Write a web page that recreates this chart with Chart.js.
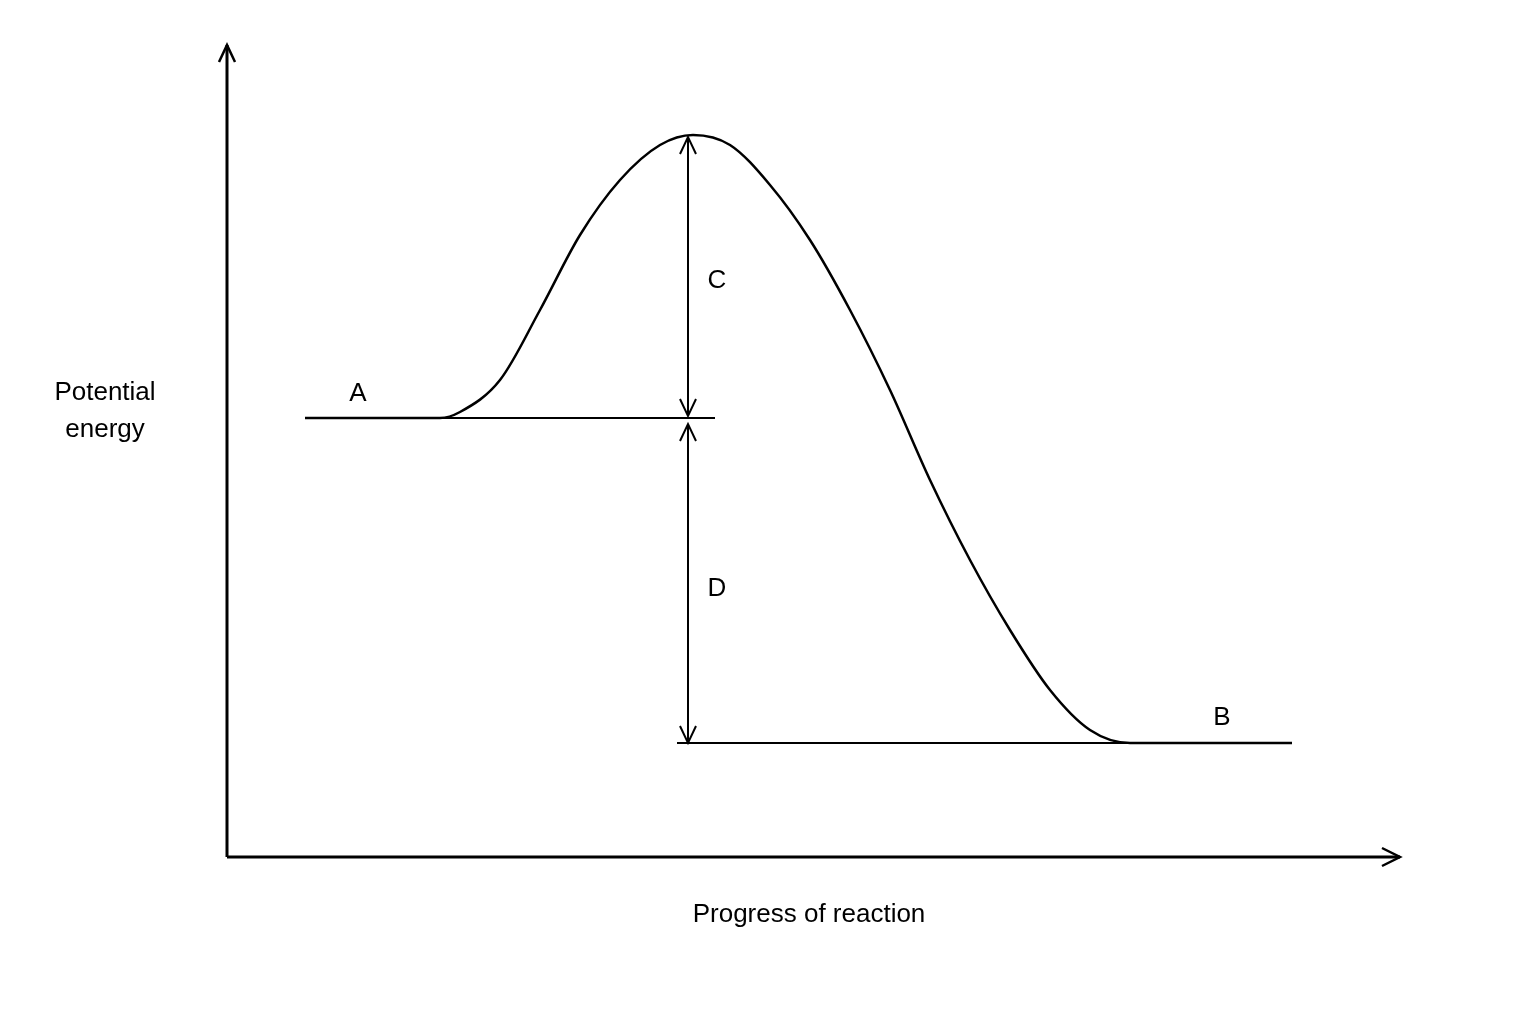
<!DOCTYPE html>
<html><head><meta charset="utf-8">
<script src="https://cdn.jsdelivr.net/npm/chart.js@4/dist/chart.umd.min.js"></script>
<style>html,body{margin:0;background:#fff}#w{width:1536px;height:1024px}</style>
</head><body><div id="w"><canvas id="c"></canvas></div>
<script>
// x: progress units (0 = y axis), y: energy units (0 = x axis)
const curveX = [78,213,233,273,313,353,393,433,466,503,543,583,623,663,703,743,783,823,863,903,1065];
const curveY = [439,439,445,477,547,622,677,712,722,712,672,617,547,467,377,297,227,167,127,114,114];
const levelA = {x0:78, x1:488, y:439};
const levelB = {x0:450, x1:903, y:114};
const peak = {x:461, y:722};
const labels = [
  {t:"A", x:131, y:463},{t:"B", x:995, y:139},{t:"C", x:490, y:576},{t:"D", x:490, y:268}
];
const xTitle = "Progress of reaction";
const yTitle = ["Potential","energy"];

const pts = curveX.map((x,i)=>({x, y:curveY[i]}));
const font = '26px "Liberation Sans", Arial, sans-serif';
function arrowHead(ctx,x,y,dir){ // dir -1 up, 1 down, or 'right'
  ctx.beginPath();
  if(dir==='right'){ctx.moveTo(x-18,y-9);ctx.lineTo(x,y);ctx.lineTo(x-18,y+9);}
  else {ctx.moveTo(x-8,y-dir*17);ctx.lineTo(x,y);ctx.lineTo(x+8,y-dir*17);}
  ctx.stroke();
}
const deco = {id:'deco', afterDatasetsDraw(chart){
  const {ctx, scales:{x,y}} = chart;
  ctx.save(); ctx.strokeStyle='#000'; ctx.fillStyle='#000';
  // axes
  ctx.lineWidth=3;
  const ox=x.getPixelForValue(0), oy=y.getPixelForValue(0);
  ctx.beginPath();ctx.moveTo(ox,oy);ctx.lineTo(ox,y.getPixelForValue(812));ctx.moveTo(ox,oy);ctx.lineTo(x.getPixelForValue(1173),oy);ctx.stroke();
  ctx.lineWidth=2.5;
  arrowHead(ctx,ox,y.getPixelForValue(812),-1);
  arrowHead(ctx,x.getPixelForValue(1173),oy,'right');
  // levels
  ctx.lineWidth=2;
  ctx.beginPath();ctx.moveTo(x.getPixelForValue(levelA.x0),y.getPixelForValue(levelA.y));ctx.lineTo(x.getPixelForValue(levelA.x1),y.getPixelForValue(levelA.y));
  ctx.moveTo(x.getPixelForValue(levelB.x0),y.getPixelForValue(levelB.y));ctx.lineTo(x.getPixelForValue(levelB.x1),y.getPixelForValue(levelB.y));ctx.stroke();
  // double arrows
  const ax=x.getPixelForValue(peak.x);
  const pT=y.getPixelForValue(peak.y), pA=y.getPixelForValue(levelA.y), pB=y.getPixelForValue(levelB.y);
  ctx.beginPath();ctx.moveTo(ax,pT+2);ctx.lineTo(ax,pA-2);ctx.moveTo(ax,pA+6);ctx.lineTo(ax,pB);ctx.stroke();
  arrowHead(ctx,ax,pT+2,-1);arrowHead(ctx,ax,pA-2,1);arrowHead(ctx,ax,pA+6,-1);arrowHead(ctx,ax,pB,1);
  // text
  ctx.font=font; ctx.textAlign='center'; ctx.textBaseline='middle';
  labels.forEach(l=>ctx.fillText(l.t,x.getPixelForValue(l.x),y.getPixelForValue(l.y)));
  ctx.fillText(xTitle,809,915);
  ctx.fillText(yTitle[0],105,393);ctx.fillText(yTitle[1],105,430);
  ctx.restore();
}};
new Chart(document.getElementById('c'),{
  type:'line',
  data:{datasets:[{data:pts,borderColor:'#000',borderWidth:2.5,pointRadius:0,cubicInterpolationMode:'monotone',fill:false}]},
  options:{responsive:true,maintainAspectRatio:false,animation:false,
    layout:{padding:{left:227,right:136,top:45,bottom:167}},
    plugins:{legend:{display:false},tooltip:{enabled:false}},
    scales:{x:{type:'linear',min:0,max:1173,display:false},y:{min:0,max:812,display:false}}},
  plugins:[deco]
});
</script></body></html>
